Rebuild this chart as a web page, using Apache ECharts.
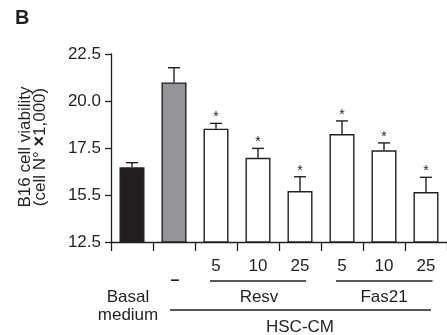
<!DOCTYPE html>
<html>
<head>
<meta charset="utf-8">
<script src="https://cdn.jsdelivr.net/npm/echarts@6/dist/echarts.min.js"></script>
<style>
html,body{margin:0;padding:0;background:#fff;}
#chart{width:447px;height:335px;}
</style>
</head>
<body>
<div id="chart"></div>
<script>
// ---- data ----
var categories = ['Basal medium', '-', 'Resv 5', 'Resv 10', 'Resv 25', 'Fas21 5', 'Fas21 10', 'Fas21 25'];
var tickLabels = ['', '', '5', '10', '25', '5', '10', '25'];
var means = [16.47, 20.99, 18.53, 16.98, 15.21, 18.24, 17.38, 15.16];
var errors = [0.25, 0.78, 0.28, 0.50, 0.76, 0.70, 0.39, 0.78];
var significant = [0, 0, 1, 1, 1, 1, 1, 1];
var yTickLabels = ['12.5', '15.5', '17.5', '20.0', '22.5'];
var barColors = ['#231f20', '#939598', '#ffffff', '#ffffff', '#ffffff', '#ffffff', '#ffffff', '#ffffff'];

var FONT = "'Liberation Sans', Arial, sans-serif";
var INK = '#231f20';
var FS = 17;

var chart = echarts.init(document.getElementById('chart'), null, {renderer: 'canvas'});

var barData = means.map(function (m, i) {
  return {value: m, itemStyle: {color: barColors[i]}};
});
var errData = means.map(function (m, i) {
  return [i, m, errors[i], significant[i]];
});

chart.setOption({
  animation: false,
  backgroundColor: '#fff',
  grid: {left: 111, top: 54, width: 340.8, height: 188},
  xAxis: {
    type: 'category',
    data: categories,
    axisLine: {lineStyle: {color: INK, width: 1.3}},
    axisTick: {show: true, length: 9, lineStyle: {color: INK, width: 1.3}},
    axisLabel: {
      margin: 16,
      fontFamily: FONT, fontSize: FS, color: INK,
      formatter: function (v, i) { return tickLabels[i]; }
    }
  },
  yAxis: {
    type: 'value',
    min: 12.5, max: 22.5, interval: 2.5,
    splitLine: {show: false},
    axisLine: {show: true, lineStyle: {color: INK, width: 1.3}},
    axisTick: {show: true, length: 6, lineStyle: {color: INK, width: 1.3}},
    axisLabel: {
      margin: 10,
      fontFamily: FONT, fontSize: FS, color: INK,
      formatter: function (v) {
        var idx = Math.round((v - 12.5) / 2.5);
        return yTickLabels[idx];
      }
    }
  },
  series: [
    {
      type: 'bar',
      data: barData,
      barWidth: 25,
      itemStyle: {borderColor: INK, borderWidth: 1.4},
      z: 2
    },
    {
      type: 'custom',
      data: errData,
      z: 3,
      renderItem: function (params, api) {
        var i = api.value(0), m = api.value(1), e = api.value(2), s = api.value(3);
        var base = api.coord([i, m]);
        var top = api.coord([i, m + e]);
        var style = {stroke: INK, lineWidth: 1.4};
        var children = [
          {type: 'line', shape: {x1: top[0], y1: base[1], x2: top[0], y2: top[1]}, style: style},
          {type: 'line', shape: {x1: top[0] - 6, y1: top[1], x2: top[0] + 6, y2: top[1]}, style: style}
        ];
        if (s) {
          children.push({
            type: 'text',
            style: {
              text: '*', x: top[0], y: top[1] - 6,
              align: 'center', verticalAlign: 'middle',
              font: '14px ' + FONT, fill: INK
            }
          });
        }
        return {type: 'group', children: children};
      }
    }
  ]
});

function px(i) { return chart.convertToPixel({gridIndex: 0}, [i, 15])[0]; }

var lineStyle = {stroke: INK, lineWidth: 1.3};
var F = FS + 'px ' + FONT;
chart.setOption({
  graphic: [
    {type: 'text', left: 15, top: 8,
      style: {text: 'B', font: 'bold 20px ' + FONT, fill: INK}},
    {type: 'text', x: 33, y: 147, rotation: Math.PI / 2,
      style: {
        text: '{a|B16 cell viability}\n{a|(cell N° }{b|×}{a|1,000)}',
        align: 'center', verticalAlign: 'middle',
        rich: {
          a: {fontFamily: FONT, fontSize: 17, lineHeight: 15, fill: INK},
          b: {fontFamily: FONT, fontSize: 18, fontWeight: 'bold', lineHeight: 15, fill: INK}
        }
      }},
    {type: 'text', x: px(0) - 4, y: 306,
      style: {text: 'Basal\nmedium', font: F, lineHeight: 18, align: 'center', verticalAlign: 'middle', fill: INK}},
    {type: 'text', x: px(1) + 1, y: 281,
      style: {text: '–', font: 'bold 16px ' + FONT, align: 'center', verticalAlign: 'middle', fill: INK}},
    {type: 'line', shape: {x1: px(2) - 6, y1: 281, x2: px(4) + 6, y2: 281}, style: lineStyle},
    {type: 'line', shape: {x1: px(5) - 6, y1: 281, x2: px(7) + 6.5, y2: 281}, style: lineStyle},
    {type: 'line', shape: {x1: px(1) - 4, y1: 310, x2: px(7) + 5, y2: 310}, style: lineStyle},
    {type: 'text', x: (px(2) + px(4)) / 2 + 1, y: 297,
      style: {text: 'Resv', font: F, align: 'center', verticalAlign: 'middle', fill: INK}},
    {type: 'text', x: px(6), y: 297,
      style: {text: 'Fas21', font: F, align: 'center', verticalAlign: 'middle', fill: INK}},
    {type: 'text', x: (px(1) + px(7)) / 2, y: 327,
      style: {text: 'HSC-CM', font: F, align: 'center', verticalAlign: 'middle', fill: INK}}
  ]
});
</script>
</body>
</html>
